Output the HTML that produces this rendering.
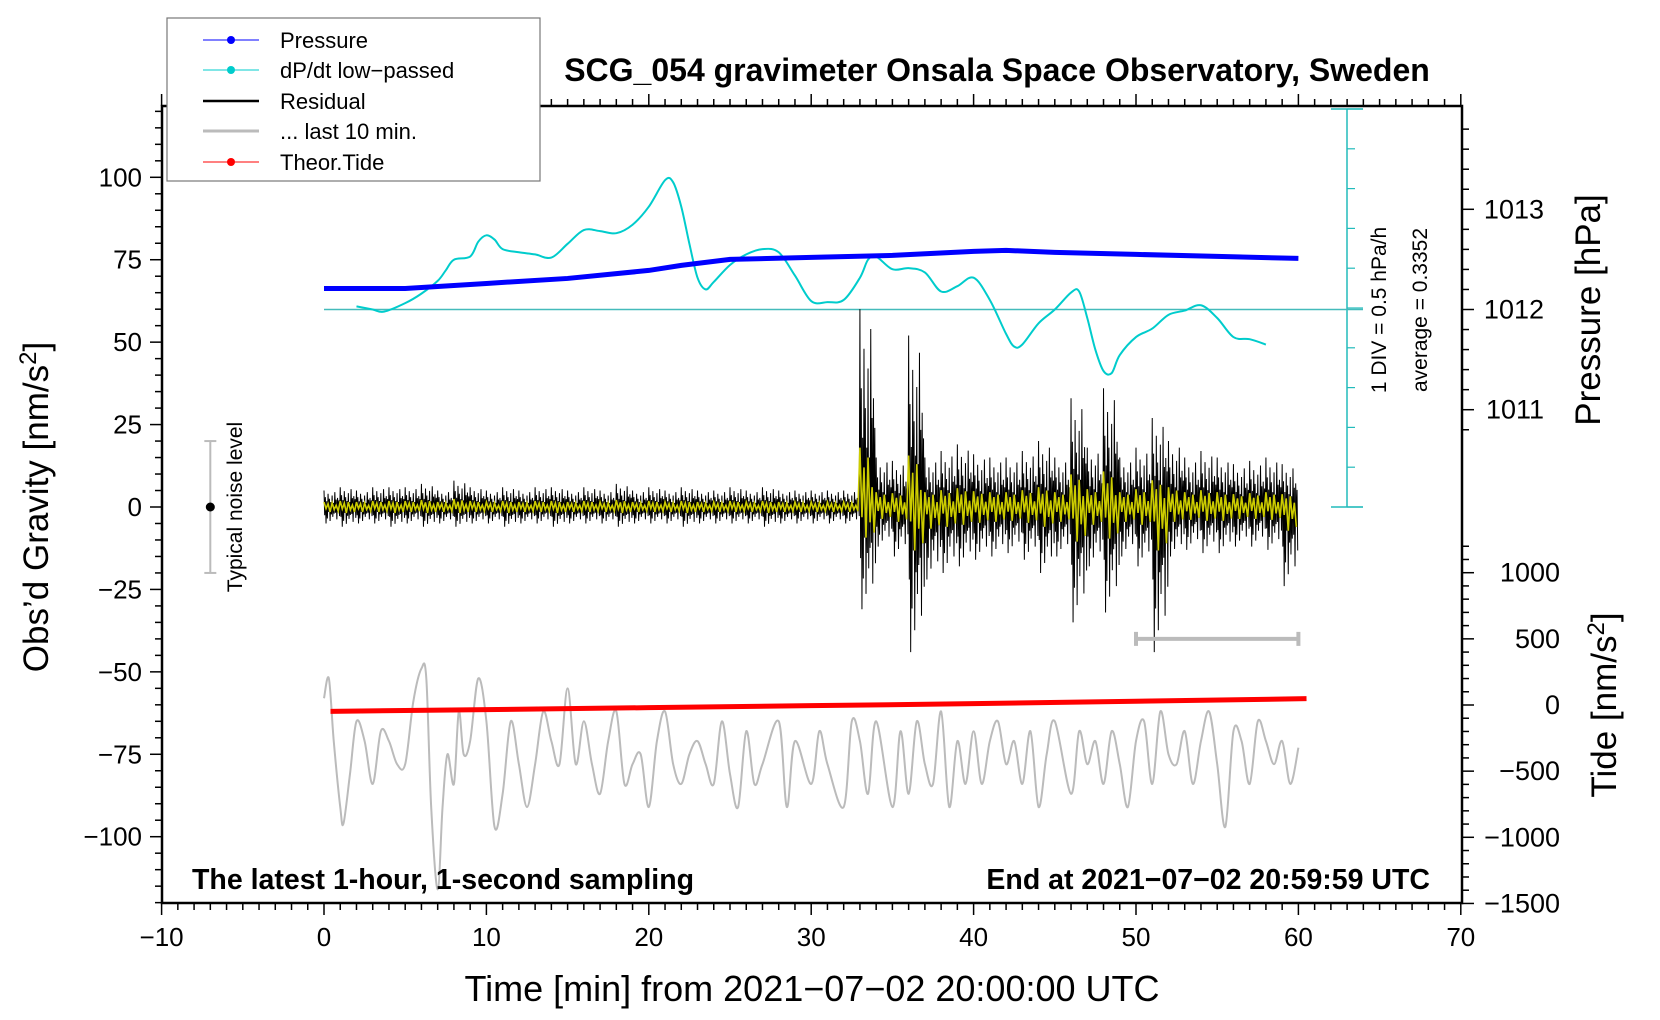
<!DOCTYPE html>
<html><head><meta charset="utf-8"><style>
body{margin:0;background:#fff}
svg{display:block;font-family:"Liberation Sans",sans-serif}
</style></head><body>
<svg id="chart" width="1660" height="1020" viewBox="0 0 1660 1020" xmlns="http://www.w3.org/2000/svg">
<g id="axes"></g>
<g id="marks"></g>
<g id="labels">
<text x="997" y="81" font-size="32" font-weight="bold" text-anchor="middle">SCG_054 gravimeter Onsala Space Observatory, Sweden</text>
<text x="192" y="889" font-size="28.5" font-weight="bold">The latest 1-hour, 1-second sampling</text>
<text x="1430" y="889" font-size="28.5" font-weight="bold" text-anchor="end">End at 2021−07−02 20:59:59 UTC</text>
<text x="812" y="1001" font-size="36" text-anchor="middle">Time [min] from 2021−07−02 20:00:00 UTC</text>
<text transform="translate(48,507) rotate(-90)" font-size="35" text-anchor="middle">Obs’d Gravity [nm/s<tspan dy="-12" font-size="24">2</tspan><tspan dy="12">]</tspan></text>
<text transform="translate(1600,310) rotate(-90)" font-size="35" text-anchor="middle">Pressure [hPa]</text>
<text transform="translate(1616,705) rotate(-90)" font-size="35" text-anchor="middle">Tide [nm/s<tspan dy="-12" font-size="24">2</tspan><tspan dy="12">]</tspan></text>
<text transform="translate(1386,310) rotate(-90)" font-size="21" text-anchor="middle">1 DIV = 0.5 hPa/h</text>
<text transform="translate(1427,310) rotate(-90)" font-size="21" text-anchor="middle">average = 0.3352</text>
<text transform="translate(242,507) rotate(-90)" font-size="21" text-anchor="middle">Typical noise level</text>
</g>
<g id="legend">
<rect x="167" y="18" width="373" height="163" fill="#fff" stroke="#777" stroke-width="1.2"/>
<g><line x1="203" y1="40" x2="259" y2="40" stroke="#00f"/><circle cx="231" cy="40" r="4" fill="#00f"/><text x="280" y="48" font-size="22">Pressure</text></g>
<g><line x1="203" y1="70" x2="259" y2="70" stroke="#0cc"/><circle cx="231" cy="70" r="4" fill="#0cc"/><text x="280" y="78" font-size="22">dP/dt low−passed</text></g>
<g><line x1="203" y1="101" x2="259" y2="101" stroke="#000" stroke-width="2.5"/><text x="280" y="109" font-size="22">Residual</text></g>
<g><line x1="203" y1="131" x2="259" y2="131" stroke="#bbb" stroke-width="3"/><text x="280" y="139" font-size="22">... last 10 min.</text></g>
<g><line x1="203" y1="162" x2="259" y2="162" stroke="#f00"/><circle cx="231" cy="162" r="4" fill="#f00"/><text x="280" y="170" font-size="22">Theor.Tide</text></g>
</g>
</svg>
<script>
// ---- data ----
const xTicks=[-10,0,10,20,30,40,50,60,70];
const yTicks=[-100,-75,-50,-25,0,25,50,75,100];
const pTicks=[1011,1012,1013];
const tTicks=[-1500,-1000,-500,0,500,1000];
const pressureMin=[0,5,10,15,20,22,25,30,35,40,42,45,50,55,60];
const pressureVal=[1012.21,1012.21,1012.26,1012.31,1012.39,1012.44,1012.50,1012.52,1012.54,1012.58,1012.59,1012.57,1012.55,1012.53,1012.51];
const dpMin=[2,3,3.7,5,6,7,7.5,8,9,9.5,10,10.5,11,12,13,14,15,16,17,18,19,20,21,21.5,22,22.5,23,23.5,24,25,26,27,28,29,30,31,32,33,33.5,34,35,36,37,38,39,40,41,42,42.5,43,44,45,46,46.5,47,47.5,48,48.5,49,50,51,52,53,54,55,56,57,58];
const dpY=[289,292,294,286,277,265,255,245,242,228,222,226,235,238,240,243,230,217,218,220,212,195,170,172,195,230,262,273,266,250,240,235,238,260,284,285,283,262,245,242,254,253,257,275,270,262,283,315,327,325,305,292,276,275,300,330,350,352,335,318,310,297,293,288,300,318,320,325];
const resHi=[5,6,5,6,6,6,7,5,8,6,5,6,5,6,6,5,6,5,7,5,6,5,6,5,5,6,5,6,5,5,5,5,5,60,15,14,52,15,17,19,16,15,15,17,20,15,33,18,36,15,18,27,20,15,17,15,13,14,15,13,12];
const resLo=[-5,-6,-5,-5,-6,-5,-6,-5,-6,-5,-5,-6,-5,-5,-6,-5,-5,-5,-6,-5,-5,-5,-6,-5,-5,-5,-5,-6,-5,-5,-5,-5,-5,-31,-12,-15,-44,-22,-20,-18,-16,-15,-14,-16,-20,-15,-35,-18,-32,-15,-18,-44,-15,-13,-14,-14,-12,-12,-13,-24,-6];
const lastMin=[0,0.3,0.6,1,1.2,1.6,2,2.5,3,3.5,4,4.5,5,5.5,6,6.3,6.6,7,7.3,7.6,8,8.3,8.6,9,9.5,10,10.5,11,11.5,12,12.5,13,13.5,14,14.5,15,15.5,16,16.5,17,17.5,18,18.5,19,19.5,20,20.5,21,21.5,22,22.5,23,23.5,24,24.5,25,25.5,26,26.5,27,28,28.5,29,30,30.5,31,32,32.5,33,33.5,34,35,35.5,36,36.5,37,37.5,38,38.5,39,39.5,40,40.5,41,41.5,42,42.5,43,43.5,44,44.5,45,46,46.5,47,47.5,48,48.5,49,49.5,50,50.5,51,51.5,52,52.5,53,53.5,54,54.5,55,55.5,56,56.5,57,57.5,58,58.5,59,59.5,60];
const lastVal=[-58,-52,-71,-91,-96,-81,-65,-71,-84,-68,-71,-78,-78,-59,-49,-52,-91,-116,-91,-75,-84,-62,-75,-71,-52,-65,-97,-87,-65,-78,-91,-78,-62,-71,-78,-55,-78,-65,-78,-87,-71,-62,-84,-78,-75,-91,-71,-62,-78,-84,-75,-71,-78,-84,-65,-81,-91,-68,-84,-78,-65,-91,-71,-84,-68,-78,-91,-65,-71,-87,-65,-91,-68,-87,-65,-78,-84,-62,-91,-71,-84,-68,-84,-71,-65,-78,-71,-84,-68,-91,-75,-65,-87,-68,-78,-71,-84,-68,-78,-91,-71,-65,-84,-62,-75,-78,-68,-84,-71,-62,-78,-97,-68,-71,-84,-65,-71,-78,-71,-84,-73];
const tideMin=[0.4,10,20,30,40,50,60.5];
const tideVal=[-48,-35,-20,-5,10,28,48];
// ---- scales ----
const L=162,R=1462,T=106,B=903;
const X=v=>324+v*16.24;
const Y=v=>507-v*3.297;
const P=v=>309.5-(v-1012)*100.2;
const TD=v=>705-v*0.1323;
const DP=v=>v*1.06;
const NS="http://www.w3.org/2000/svg";
function mk(tag,attrs,parent){const e=document.createElementNS(NS,tag);for(const k in attrs)e.setAttribute(k,attrs[k]);parent.appendChild(e);return e;}
function smooth(pts){let d='M'+pts[0][0]+','+pts[0][1];
 for(let i=0;i<pts.length-1;i++){const p0=pts[Math.max(0,i-1)],p1=pts[i],p2=pts[i+1],p3=pts[Math.min(pts.length-1,i+2)];
  const c1=[p1[0]+(p2[0]-p0[0])/6,p1[1]+(p2[1]-p0[1])/6],c2=[p2[0]-(p3[0]-p1[0])/6,p2[1]-(p3[1]-p1[1])/6];
  d+=' C'+c1[0]+','+c1[1]+' '+c2[0]+','+c2[1]+' '+p2[0]+','+p2[1];}
 return d;}
const axes=document.getElementById('axes'),marks=document.getElementById('marks');
let fr=mk('rect',{x:L,y:T,width:R-L,height:B-T,fill:'none',stroke:'#000','stroke-width':2.5},axes);


for(let m=-10;m<=70;m++){const x=X(m),maj=m%10===0;
 mk('line',{x1:x,y1:B,x2:x,y2:B+(maj?12:7),stroke:'#000','stroke-width':1.5},axes);
 mk('line',{x1:x,y1:T,x2:x,y2:T-(maj?12:7),stroke:'#000','stroke-width':1.5},axes);}
xTicks.forEach(v=>{const t=mk('text',{x:X(v),y:B+43,'font-size':26,'text-anchor':'middle'},axes);t.textContent=String(v).replace('-','−');

});
for(let v=-120;v<=120;v+=5){const y=Y(v),maj=v%25===0;mk('line',{x1:L,y1:y,x2:L-(maj?12:7),y2:y,stroke:'#000','stroke-width':1.5},axes);}
yTicks.forEach(v=>{const t=mk('text',{x:L-20,y:Y(v)+9,'font-size':26,'text-anchor':'end'},axes);t.textContent=String(v).replace('-','−');

});
for(let v=1010.8;v<=1013.85;v+=0.2){const y=P(v);mk('line',{x1:R,y1:y,x2:R+(Math.abs(v-Math.round(v))<0.01?12:7),y2:y,stroke:'#000','stroke-width':1.5},axes);}
pTicks.forEach(v=>{const t=mk('text',{x:R+82,y:P(v)+9,'font-size':27,'text-anchor':'end'},axes);t.textContent=v;

});
for(let v=-1500;v<=1200;v+=100){const y=TD(v);mk('line',{x1:R,y1:y,x2:R+(v%500===0?12:7),y2:y,stroke:'#000','stroke-width':1.5},axes);}
tTicks.forEach(v=>{const t=mk('text',{x:R+98,y:TD(v)+9,'font-size':27,'text-anchor':'end'},axes);t.textContent=String(v).replace('-','−');

});
const sx=1347, scaleTop=109, scaleBot=507;
mk('line',{x1:sx,y1:scaleTop,x2:sx,y2:scaleBot,stroke:'#2bb','stroke-width':1.5},marks);
for(let i=0;i<=10;i++){const y=scaleTop+(scaleBot-scaleTop)*i/10;mk('line',{x1:sx,y1:y,x2:sx+(i%5===0?16:8),y2:y,stroke:'#2bb','stroke-width':1.2},marks);}
mk('line',{x1:sx-16,y1:scaleBot,x2:sx+16,y2:scaleBot,stroke:'#2bb','stroke-width':1.5},marks);
mk('line',{x1:sx-16,y1:scaleTop,x2:sx+16,y2:scaleTop,stroke:'#2bb','stroke-width':1.5},marks);
let base=mk('line',{x1:X(0),y1:309.5,x2:sx+16,y2:309.5,stroke:'#4bb','stroke-width':1.5},marks);


let lp=mk('path',{d:smooth(lastMin.map((m,i)=>[X(m),Y(lastVal[i])])),fill:'none',stroke:'#bbb','stroke-width':2},marks);


let tl=mk('polyline',{points:tideMin.map((m,i)=>X(m)+','+TD(tideVal[i])).join(' '),fill:'none',stroke:'#f00','stroke-width':5},marks);


const pat=[1,-0.5,0.6,-1,0.35,-0.7,0.8,-0.3,0.5,-0.85,0.3,-0.45,0.7,-0.6,0.25,-0.4,0.9,-0.35,0.45,-0.75,0.55,-0.25,0.4,-0.55];
const ypat=[0.3,-0.1,0.2,-0.3,0.25,-0.15,0.1,-0.25];
let rp=[],yp=[];
for(let i=0;i<resHi.length-1;i++){for(let k=0;k<pat.length;k++){const m=i+k/pat.length;const f=pat[k];const v=f>0?resHi[i]*f:-resLo[i]*f;
 rp.push(X(m)+','+Y(v));}
 for(let k=0;k<ypat.length;k++){const m=i+k/ypat.length;const f=ypat[k];const v=f>0?resHi[i]*f:-resLo[i]*f;yp.push(X(m)+','+Y(v));}}
let rl=mk('polyline',{points:rp.join(' '),fill:'none',stroke:'#000','stroke-width':1},marks);


let yl=mk('polyline',{points:yp.join(' '),fill:'none',stroke:'#cc0','stroke-width':1.6},marks);


let dl=mk('path',{d:smooth(dpMin.map((m,i)=>[X(m),DP(dpY[i])])),fill:'none',stroke:'#0cc','stroke-width':2},marks);


let pl=mk('polyline',{points:pressureMin.map((m,i)=>X(m)+','+P(pressureVal[i])).join(' '),fill:'none',stroke:'#00f','stroke-width':5},marks);


const nx=X(-7);
mk('line',{x1:nx,y1:Y(20),x2:nx,y2:Y(-20),stroke:'#bbb','stroke-width':2},marks);
mk('line',{x1:nx-6,y1:Y(20),x2:nx+6,y2:Y(20),stroke:'#bbb','stroke-width':2},marks);
mk('line',{x1:nx-6,y1:Y(-20),x2:nx+6,y2:Y(-20),stroke:'#bbb','stroke-width':2},marks);
let nd=mk('circle',{cx:nx,cy:Y(0),r:4.5,fill:'#000'},marks);


mk('line',{x1:X(50),y1:Y(-40),x2:X(60),y2:Y(-40),stroke:'#bbb','stroke-width':4},marks);
mk('line',{x1:X(50),y1:Y(-40)-7,x2:X(50),y2:Y(-40)+7,stroke:'#bbb','stroke-width':4},marks);
mk('line',{x1:X(60),y1:Y(-40)-7,x2:X(60),y2:Y(-40)+7,stroke:'#bbb','stroke-width':4},marks);
document.getElementById('chart').appendChild(document.getElementById('legend'));
</script>
</body></html>
